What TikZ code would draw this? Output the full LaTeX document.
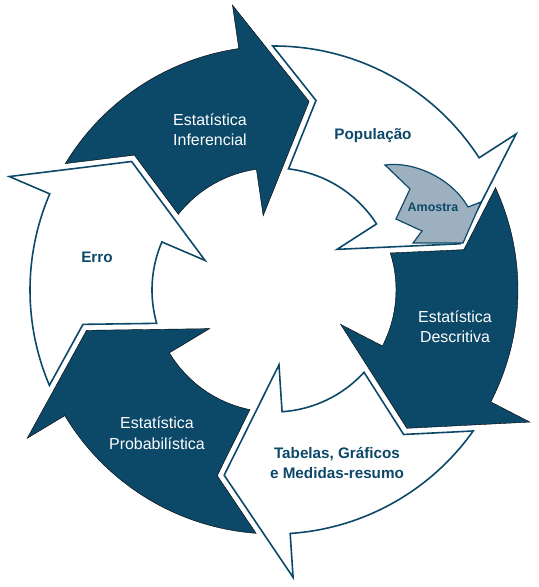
\documentclass[tikz,border=0pt]{standalone}
\usepackage{fontspec}
\setmainfont{Liberation Sans}
\definecolor{cycleblue}{RGB}{12,72,104}
\definecolor{sampleblue}{RGB}{156,176,192}
\tikzset{
	darkarrow/.style={fill=cycleblue},
	lightarrow/.style={draw=cycleblue, line width=1.6, fill=white, line join=miter},
	darklabel/.style={text=white, align=center, font=\fontsize{16}{20.5}\selectfont},
	lightlabel/.style={text=cycleblue, align=center, font=\bfseries\fontsize{15.3}{20.5}\selectfont},
}
\begin{document}
\begin{tikzpicture}[x=1bp, y=1bp]
		\useasboundingbox (0,0) rectangle (539,587);

		% six curved arrows round the centre
		\begin{scope}[shift={(274,297)}]
			\foreach \prev/\cur/\kind in {156.8/98.3/darkarrow, 98.3/32.8/lightarrow, 32.8/-27.3/darkarrow, -27.3/-86.2/lightarrow, -86.2/-149/darkarrow, -149/-203.2/lightarrow}
				\draw[\kind] (\prev-8:244) arc[start angle=\prev-8, end angle=\cur, radius=244]
					-- (\cur:288) -- (\cur-18.86:191.8) -- (\cur:75) -- (\cur:122)
					arc[start angle=\cur, end angle=\prev-15.13, radius=122]
					-- (\prev-20.8:194.1) -- cycle;
		\end{scope}

		% small arrow inside the head of the second one
		\draw[draw=cycleblue, line width=1.2, fill=sampleblue, line join=miter]
			(385,422) .. controls (415,426) and (452,408) .. (468,380)
			-- (481,385) -- (463,344) -- (413,344) -- (422,356)
			-- (396,368) -- (410,398) -- cycle;

		\node[darklabel] (inferencial) at (210,457) {Estatística\\Inferencial};
		\node[lightlabel] (populacao) at (373,451) {População};
		\node[text=cycleblue, font=\bfseries\fontsize{12.5}{14}\selectfont] (amostra) at (433,380) {Amostra};
		\node[darklabel] (descritiva) at (455,260) {Estatística\\Descritiva};
		\node[lightlabel] (tabelas) at (337,124) {Tabelas, Gráficos\\e Medidas-resumo};
		\node[darklabel] (probabilistica) at (157,154) {Estatística\\Probabilística};
		\node[lightlabel] (erro) at (97,330) {Erro};
	\end{tikzpicture}
\end{document}
